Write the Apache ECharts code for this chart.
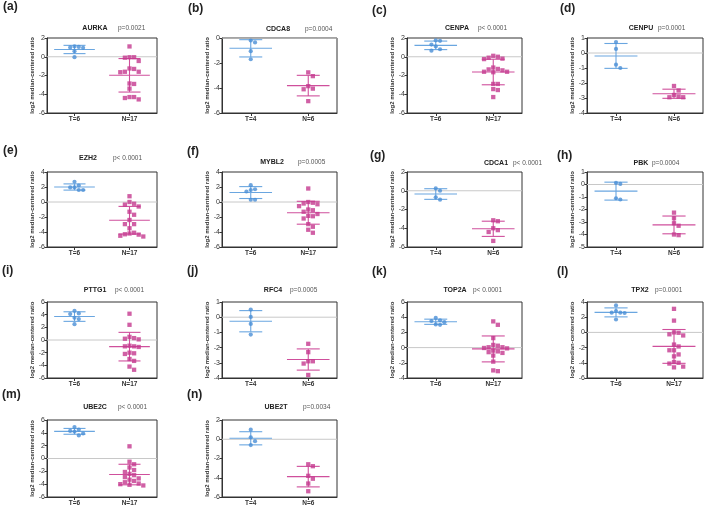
<!DOCTYPE html>
<html>
<head>
<meta charset="utf-8">
<script src="https://cdn.jsdelivr.net/npm/echarts@6/dist/echarts.min.js"></script>
<style>
html, body { margin: 0; padding: 0; background: #fff; }
#chart { width: 709px; height: 514px; }
</style>
</head>
<body>
<div id="chart"></div>
<script>
// panel data
const panelTags = ['(a)', '(b)', '(c)', '(d)', '(e)', '(f)', '(g)', '(h)', '(i)', '(j)', '(k)', '(l)', '(m)', '(n)'];
const genes = ['AURKA', 'CDCA8', 'CENPA', 'CENPU', 'EZH2', 'MYBL2', 'CDCA1', 'PBK', 'PTTG1', 'RFC4', 'TOP2A', 'TPX2', 'UBE2C', 'UBE2T'];
const pValues = ['p=0.0021', 'p=0.0004', 'p< 0.0001', 'p=0.0001', 'p< 0.0001', 'p=0.0005', 'p< 0.0001', 'p=0.0004', 'p< 0.0001', 'p=0.0005', 'p< 0.0001', 'p=0.0001', 'p< 0.0001', 'p=0.0034'];
const tumorLabels = ['T=6', 'T=4', 'T=6', 'T=4', 'T=6', 'T=6', 'T=4', 'T=4', 'T=6', 'T=4', 'T=6', 'T=6', 'T=6', 'T=4'];
const normalLabels = ['N=17', 'N=6', 'N=17', 'N=6', 'N=17', 'N=17', 'N=6', 'N=6', 'N=17', 'N=6', 'N=17', 'N=17', 'N=17', 'N=6'];
const yMins = [-6, -6, -6, -4, -6, -6, -6, -5, -6, -4, -4, -6, -6, -6];
const yMaxs = [2, 0, 2, 1, 4, 4, 2, 1, 6, 1, 6, 4, 6, 2];
const ySteps = [2, 2, 2, 1, 2, 2, 2, 1, 2, 1, 2, 2, 2, 2];

const aurkaT = [1.05, 1.0, 0.95, 1.1, 0.6, -0.05];
const aurkaN = [1.1, -0.05, -0.1, -0.05, -0.45, -1.25, -1.3, -1.6, -1.6, -1.65, -2.85, -2.9, -3.4, -4.3, -4.3, -4.4, -4.55];
const cdca8T = [-0.2, -0.35, -1.05, -1.7];
const cdca8N = [-2.75, -3.05, -3.85, -4.05, -4.1, -5.05];
const cenpaT = [1.7, 1.75, 1.3, 1.1, 0.8, 0.65];
const cenpaN = [0.1, 0.0, -0.1, -0.25, -0.2, -1.15, -1.3, -1.35, -1.45, -1.6, -1.6, -1.65, -2.9, -2.9, -3.45, -3.55, -4.3];
const cenpuT = [0.73, 0.27, -0.78, -1.0];
const cenpuN = [-2.2, -2.5, -2.9, -2.95, -2.95, -2.8];
const ezh2T = [2.7, 2.2, 1.95, 1.6, 1.6, 1.95];
const ezh2N = [0.77, 0.0, -0.23, -0.35, -0.6, -1.3, -1.7, -2.4, -2.95, -2.95, -3.5, -4.2, -4.35, -4.6, -4.5, -4.3, -4.1];
const mybl2T = [2.25, 1.6, 1.7, 1.4, 0.3, 0.3];
const mybl2N = [1.8, 0.0, -0.1, -0.2, -0.3, -0.55, -1.0, -1.1, -1.3, -1.6, -1.85, -1.9, -2.2, -2.95, -3.3, -3.7, -4.1];
const cdca1T = [0.25, 0.0, -0.7, -0.95];
const cdca1N = [-3.25, -3.15, -4.2, -4.0, -4.4, -5.35];
const pbkT = [0.13, 0.05, -1.1, -1.2];
const pbkN = [-2.25, -2.7, -3.1, -3.3, -4.0, -4.05];
const pttg1T = [4.6, 4.2, 4.1, 3.5, 3.3, 2.5];
const pttg1N = [4.15, 2.4, 0.5, 0.3, 0.2, 0.1, -0.9, -1.0, -1.0, -1.1, -2.0, -2.1, -2.2, -3.0, -3.3, -4.2, -4.7];
const rfc4T = [0.5, 0.02, -0.44, -1.14];
const rfc4N = [-1.75, -2.3, -2.9, -2.9, -3.05, -3.8];
const top2aT = [3.9, 3.6, 3.5, 3.35, 3.0, 3.05];
const top2aN = [3.45, 3.0, 1.25, 0.35, 0.05, -0.1, -0.05, 0.05, 0.25, -0.5, -0.7, -0.6, -0.4, -1.05, -1.85, -3.0, -3.1];
const tpx2T = [3.55, 2.8, 2.6, 2.55, 2.6, 1.7];
const tpx2N = [3.1, 1.55, 0.0, -0.05, -0.25, -0.4, -1.6, -1.85, -2.35, -2.35, -2.9, -3.15, -3.9, -4.0, -4.1, -4.5, -4.6];
const ube2cT = [4.9, 4.5, 4.3, 4.2, 3.9, 3.6];
const ube2cN = [1.9, -0.5, -0.9, -1.4, -1.8, -2.1, -2.4, -2.6, -2.9, -3.1, -3.3, -3.5, -3.7, -3.9, -4.0, -4.1, -4.2];
const ube2tT = [1.0, 0.2, -0.2, -0.6];
const ube2tN = [-2.6, -2.8, -3.8, -4.1, -4.6, -5.4];

const tumorValues = [aurkaT, cdca8T, cenpaT, cenpuT, ezh2T, mybl2T, cdca1T, pbkT, pttg1T, rfc4T, top2aT, tpx2T, ube2cT, ube2tT];
const normalValues = [aurkaN, cdca8N, cenpaN, cenpuN, ezh2N, mybl2N, cdca1N, pbkN, pttg1N, rfc4N, top2aN, tpx2N, ube2cN, ube2tN];

// layout
const colLeft = [47, 222, 407, 587];
const colWidth = [110, 115, 115, 116];
const rowTop = [38, 172, 302, 420];
const rowHeight = [75, 75, 76, 77];
const tagPos = [[3, 7], [188, 9], [372, 11], [560, 9], [3, 151], [187, 152], [370, 156], [557, 156], [2, 271], [187, 271], [372, 272], [557, 272], [2, 395], [187, 395]];
const genePos = [[95, 28], [278, 29], [457, 28], [641, 28], [88, 158], [272, 162], [496, 163], [641, 163], [95, 290], [273, 290], [455, 290], [640, 290], [95, 407], [276, 407]];
const pLeft = [118, 305, 478, 658, 113, 298, 513, 652, 115, 290, 473, 655, 118, 303];

const BLUE = '#4a8fd6';
const BLUE_LINE = '#6aa6e0';
const PINK = '#c4388e';
const PINK_LINE = '#cf4f9c';
const T_X = 1, N_X = 3;

function stats(arr) {
  const m = arr.reduce((s, v) => s + v, 0) / arr.length;
  const sd = Math.sqrt(arr.reduce((s, v) => s + (v - m) * (v - m), 0) / (arr.length - 1));
  return [m, sd];
}

// simple beeswarm: spread points that would overlap at the same height
function swarm(values, center, pxPerY, unitsPerPx, size) {
  const placed = [];
  const order = values.map((v, i) => i).sort((a, b) => values[b] - values[a]);
  const out = new Array(values.length);
  order.forEach(i => {
    const y = values[i] * pxPerY;
    for (let k = 0; k < 40; k++) {
      const off = k === 0 ? 0 : (k % 2 ? 1 : -1) * Math.ceil(k / 2) * size;
      const hit = placed.some(p => Math.hypot(p[0] - off, p[1] - y) < size);
      if (!hit) {
        placed.push([off, y]);
        out[i] = [center + off * unitsPerPx, values[i]];
        break;
      }
    }
  });
  return out;
}

const grids = [], xAxes = [], yAxes = [], series = [], graphics = [];

genes.forEach((gene, i) => {
  const col = i % 4, row = Math.floor(i / 4);
  const w = colWidth[col], h = rowHeight[row];
  grids.push({
    left: colLeft[col], top: rowTop[row], width: w, height: h,
    show: true, borderColor: '#333', borderWidth: 1, backgroundColor: 'transparent'
  });
  const tl = tumorLabels[i], nl = normalLabels[i];
  xAxes.push({
    gridIndex: i, type: 'value', min: 0, max: 4,
    splitLine: { show: false },
    axisLine: { show: true, onZero: false, lineStyle: { color: '#333' } },
    axisTick: { show: true, length: 3, customValues: [T_X, N_X], lineStyle: { color: '#333' } },
    axisLabel: {
      customValues: [T_X, N_X], margin: 3, fontSize: 6.5, fontWeight: 'bold', color: '#333',
      fontFamily: 'Liberation Sans',
      formatter: v => (v === T_X ? tl : nl)
    }
  });
  yAxes.push({
    gridIndex: i, type: 'value', min: yMins[i], max: yMaxs[i], interval: ySteps[i],
    splitLine: { show: false },
    axisLine: { show: true, onZero: false, lineStyle: { color: '#333' } },
    axisTick: { show: true, length: 2.5, lineStyle: { color: '#333' } },
    axisLabel: { fontSize: 7, margin: 2, color: '#333', fontFamily: 'Liberation Sans' },
    name: 'log2 median-centered ratio', nameLocation: 'middle', nameGap: 12,
    nameTextStyle: { fontSize: 6, fontWeight: 'bold', color: '#333', fontFamily: 'Liberation Sans' }
  });

  // zero reference line
  series.push({
    type: 'line', xAxisIndex: i, yAxisIndex: i, silent: true, z: 1,
    symbol: 'none', lineStyle: { color: '#c8c8c8', width: 1 },
    data: [[0, 0], [4, 0]]
  });

  const pxPerY = h / (yMaxs[i] - yMins[i]);
  const unitsPerPx = 4 / w;
  series.push({
    type: 'scatter', xAxisIndex: i, yAxisIndex: i, symbol: 'circle', symbolSize: 4.2,
    itemStyle: { color: BLUE }, silent: true, z: 3,
    data: swarm(tumorValues[i], T_X, pxPerY, unitsPerPx, 4.3)
  });
  series.push({
    type: 'scatter', xAxisIndex: i, yAxisIndex: i, symbol: 'rect', symbolSize: 4.3,
    itemStyle: { color: PINK }, silent: true, z: 3,
    data: swarm(normalValues[i], N_X, pxPerY, unitsPerPx, 4.6)
  });
  const sT = stats(tumorValues[i]), sN = stats(normalValues[i]);
  series.push({
    type: 'custom', xAxisIndex: i, yAxisIndex: i, silent: true, z: 2,
    data: [[T_X, sT[0], sT[1]], [N_X, sN[0], sN[1]]],
    encode: { x: 0, y: 1 },
    renderItem: (params, api) => {
      const x = api.value(0), m = api.value(1), sd = api.value(2);
      const color = params.dataIndex === 0 ? BLUE_LINE : PINK_LINE;
      const seg = (x1, y1, x2, y2) => {
        const a = api.coord([x1, y1]), b = api.coord([x2, y2]);
        return { type: 'line', shape: { x1: a[0], y1: a[1], x2: b[0], y2: b[1] }, style: { stroke: color, lineWidth: 1.1 } };
      };
      return {
        type: 'group',
        children: [
          seg(x - 0.74, m, x + 0.74, m),
          seg(x - 0.4, m + sd, x + 0.4, m + sd),
          seg(x - 0.4, m - sd, x + 0.4, m - sd),
          seg(x, m - sd, x, m + sd)
        ]
      };
    }
  });

  graphics.push({
    type: 'text', x: tagPos[i][0], y: tagPos[i][1],
    style: { text: panelTags[i], font: 'bold 12px "Liberation Sans"', fill: '#222', textVerticalAlign: 'middle' }
  });
  graphics.push({
    type: 'text', x: genePos[i][0], y: genePos[i][1],
    style: { text: gene, font: 'bold 7px "Liberation Sans"', fill: '#222', textAlign: 'center', textVerticalAlign: 'middle' }
  });
  graphics.push({
    type: 'text', x: pLeft[i], y: genePos[i][1],
    style: { text: pValues[i], font: '6.5px "Liberation Sans"', fill: '#555', textVerticalAlign: 'middle' }
  });
});

const chart = echarts.init(document.getElementById('chart'));
chart.setOption({
  animation: false,
  backgroundColor: '#fff',
  grid: grids,
  xAxis: xAxes,
  yAxis: yAxes,
  series: series,
  graphic: graphics
});
</script>
</body>
</html>
